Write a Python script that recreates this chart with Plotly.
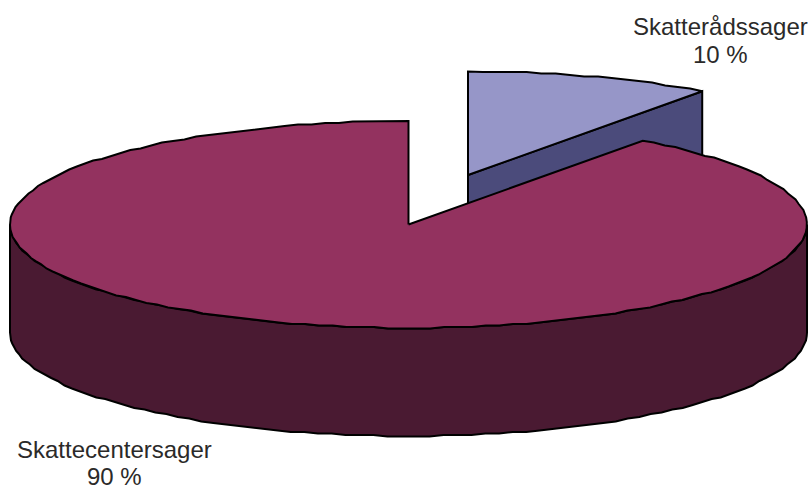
import numpy as np
import plotly.graph_objects as go

categories = ["Skatterådssager", "Skattecentersager"]
values = [10, 90]
percent_labels = ["10 %", "90 %"]

top_colors = ["#9696C8", "#93325F"]
side_colors = ["#4B4B7B", "#4A1A32"]
INK = "#000000"
TEXT = "#2B2A29"
W, H = 811, 491

RX, RY, DEPTH = 398.5, 103.5, 108
CENTERS = [(468, 175), (408.5, 224.5)]   # exploded slice centres (pixels)

fracs = np.array(values, float) / sum(values)
ends = np.cumsum(fracs) * 2 * np.pi
starts = ends - fracs * 2 * np.pi


def rim(cx, cy, a0, a1, dy=0.0, step=0.035):
    n = max(int(abs(a1 - a0) / step), 1) + 1
    t = np.linspace(a0, a1, n)
    x = cx + RX * np.sin(t)
    y = cy - RY * np.cos(t) + dy
    # the original's outline is a slightly stepped polygon
    y[1:-1] = np.round(y[1:-1] / 1.5) * 1.5
    return x, y


def poly(fig, x, y, fill):
    fig.add_trace(go.Scatter(
        x=list(x), y=list(y), mode="lines", fill="toself", fillcolor=fill,
        line=dict(color=INK, width=2), hoverinfo="skip", showlegend=False))


fig = go.Figure()

# small slice: right-hand radial wall and top
cx, cy = CENTERS[0]
a0, a1 = starts[0], ends[0]
ex, ey = cx + RX * np.sin(a1), cy - RY * np.cos(a1)
poly(fig, [cx, ex, ex, cx, cx], [cy, ey, ey + DEPTH, cy + DEPTH, cy], side_colors[0])
rx_, ry_ = rim(cx, cy, a0, a1)
poly(fig, np.r_[cx, rx_, cx], np.r_[cy, ry_, cy], top_colors[0])

# large slice: front wall and top
cx, cy = CENTERS[1]
a0, a1 = starts[1], ends[1]
fx, fy = rim(cx, cy, np.pi / 2, 3 * np.pi / 2)
poly(fig, np.r_[fx, fx[::-1], fx[0]], np.r_[fy, fy[::-1] + DEPTH, fy[0]], side_colors[1])
rx_, ry_ = rim(cx, cy, a0, a1)
poly(fig, np.r_[cx, rx_, cx], np.r_[cy, ry_, cy], top_colors[1])

label_pos = [(720, 26.5, 54), (114, 449, 476.5)]
for cat, pct, (lx, y1, y2) in zip(categories, percent_labels, label_pos):
    for txt, ly in ((cat, y1), (pct, y2)):
        fig.add_annotation(x=lx, y=ly, text=txt, showarrow=False,
                           xanchor="center", yanchor="middle", align="center",
                           font=dict(family="Liberation Sans", size=24, color=TEXT))

fig.update_layout(
    width=W, height=H, margin=dict(l=0, r=0, t=0, b=0),
    paper_bgcolor="white", plot_bgcolor="white", showlegend=False,
    xaxis=dict(range=[0, W], visible=False, fixedrange=True),
    yaxis=dict(range=[H, 0], visible=False, fixedrange=True),
)
fig.write_html("out.html", config=dict(displayModeBar=False),
               post_script="document.body.style.margin='0';document.body.style.overflow='hidden';")
